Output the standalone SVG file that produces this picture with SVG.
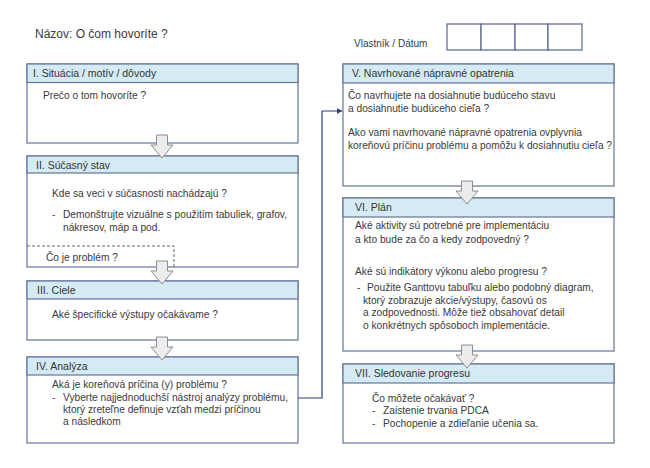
<svg xmlns="http://www.w3.org/2000/svg" width="650" height="468" viewBox="0 0 650 468">
<style>
text{font-family:"Liberation Sans",Arial,sans-serif;fill:#3a3a3a}
.t{font-size:12px}
.h{font-size:10.5px;fill:#333}
.b{font-size:10.2px}
.box{fill:#fff;stroke:#66739a;stroke-width:1.2}
.hd{fill:#d4ebf3;stroke:#66739a;stroke-width:1.2}
.cell{fill:#fff;stroke:#5a6590;stroke-width:1.2}
.blk{fill:#ececec;stroke:#8e8e8e;stroke-width:1}
.dash{fill:none;stroke:#666;stroke-width:1;stroke-dasharray:3 2}
.con{fill:none;stroke:#2f3c78;stroke-width:1.2}
</style>
<defs>
<marker id="ah" markerWidth="6" markerHeight="6" refX="5.5" refY="3" orient="auto" markerUnits="userSpaceOnUse">
<path d="M0,0 L6,3 L0,6 Z" fill="#2f3c78"/>
</marker>
<path id="barrow" d="M-5.5,0 H5.5 V10 H11 L0,23 L-11,10 H-5.5 Z"/>
</defs>
<rect width="650" height="468" fill="#fff"/>
<text class="t" x="35" y="38">Názov: O čom hovoríte ?</text>
<g id="owner">
<text class="b" x="354" y="47" style="font-size:10px">Vlastník / Dátum</text>
<rect class="cell" x="447" y="24" width="34" height="26"/>
<rect class="cell" x="481" y="24" width="34" height="26"/>
<rect class="cell" x="515" y="24" width="33" height="26"/>
<rect class="cell" x="548" y="24" width="34" height="26"/>
</g>
<g id="n1">
<rect class="box" x="27" y="64" width="271" height="79"/>
<rect class="hd" x="27" y="64" width="271" height="18.5"/>
<text class="h" x="33" y="77">I. Situácia / motív / dôvody</text>
<text class="b" x="43" y="99">Prečo o tom hovoríte ?</text>
</g>
<g id="n2">
<rect class="box" x="27" y="156" width="271" height="111"/>
<rect class="hd" x="27" y="156" width="271" height="17"/>
<text class="h" x="36" y="169">II. Súčasný stav</text>
<text class="b" x="52" y="197">Kde sa veci v súčasnosti nachádzajú ?</text>
<text class="b" x="52" y="218">-</text>
<text class="b" x="63" y="218">Demonštrujte vizuálne s použitím tabuliek, grafov,</text>
<text class="b" x="63" y="231">nákresov, máp a pod.</text>
<path class="dash" d="M27,246 H174 V267"/>
<text class="b" x="46" y="261">Čo je problém ?</text>
</g>
<g id="n3">
<rect class="box" x="27" y="281" width="271" height="59"/>
<rect class="hd" x="27" y="281" width="271" height="18"/>
<text class="h" x="37" y="294">III. Ciele</text>
<text class="b" x="52" y="318">Aké špecifické výstupy očakávame ?</text>
</g>
<g id="n4">
<rect class="box" x="27" y="357" width="271" height="86"/>
<rect class="hd" x="27" y="357" width="271" height="18"/>
<text class="h" x="36" y="370">IV. Analýza</text>
<text class="b" x="52" y="388">Aká je koreňová príčina (y) problému ?</text>
<text class="b" x="52" y="401">-</text>
<text class="b" x="63" y="401">Vyberte najjednoduchší nástroj analýzy problému,</text>
<text class="b" x="63" y="413">ktorý zreteľne definuje vzťah medzi príčinou</text>
<text class="b" x="63" y="425">a následkom</text>
</g>
<g id="n5">
<rect class="box" x="343" y="64" width="271" height="122"/>
<rect class="hd" x="343" y="64" width="271" height="19"/>
<text class="h" x="352" y="77">V. Navrhované nápravné opatrenia</text>
<text class="b" x="348" y="99">Čo navrhujete na dosiahnutie budúceho stavu</text>
<text class="b" x="348" y="112">a dosiahnutie budúceho cieľa ?</text>
<text class="b" x="348" y="136">Ako vami navrhované nápravné opatrenia ovplyvnia</text>
<text class="b" x="348" y="149">koreňovú príčinu problému a pomôžu k dosiahnutiu cieľa ?</text>
</g>
<g id="n6">
<rect class="box" x="343" y="198" width="271" height="153"/>
<rect class="hd" x="343" y="198" width="271" height="19"/>
<text class="h" x="355" y="211">VI. Plán</text>
<text class="b" x="355" y="229">Aké aktivity sú potrebné pre implementáciu</text>
<text class="b" x="355" y="243">a kto bude za čo a kedy zodpovedný ?</text>
<text class="b" x="355" y="275">Aké sú indikátory výkonu alebo progresu ?</text>
<text class="b" x="357" y="291">-</text>
<text class="b" x="367" y="291">Použite Ganttovu tabuľku alebo podobný diagram,</text>
<text class="b" x="363" y="304">ktorý zobrazuje akcie/výstupy, časovú os</text>
<text class="b" x="363" y="316">a zodpovednosti. Môže tiež obsahovať detail</text>
<text class="b" x="363" y="329">o konkrétnych spôsoboch implementácie.</text>
</g>
<g id="n7">
<rect class="box" x="343" y="364" width="271" height="79"/>
<rect class="hd" x="343" y="364" width="271" height="19"/>
<text class="h" x="355" y="377">VII. Sledovanie progresu</text>
<text class="b" x="372" y="402">Čo môžete očakávať ?</text>
<text class="b" x="372" y="414">-</text>
<text class="b" x="383" y="414">Zaistenie trvania PDCA</text>
<text class="b" x="372" y="427">-</text>
<text class="b" x="383" y="427">Pochopenie a zdieľanie učenia sa.</text>
</g>
<g id="connectors">
<use href="#barrow" class="blk" transform="translate(162,135)"/>
<use href="#barrow" class="blk" transform="translate(162,261)"/>
<use href="#barrow" class="blk" transform="translate(162,337)"/>
<use href="#barrow" class="blk" transform="translate(467,181)"/>
<use href="#barrow" class="blk" transform="translate(467,345)"/>
<path class="con" d="M298,398 H322 V111 H342" marker-end="url(#ah)"/>
</g>
</svg>
